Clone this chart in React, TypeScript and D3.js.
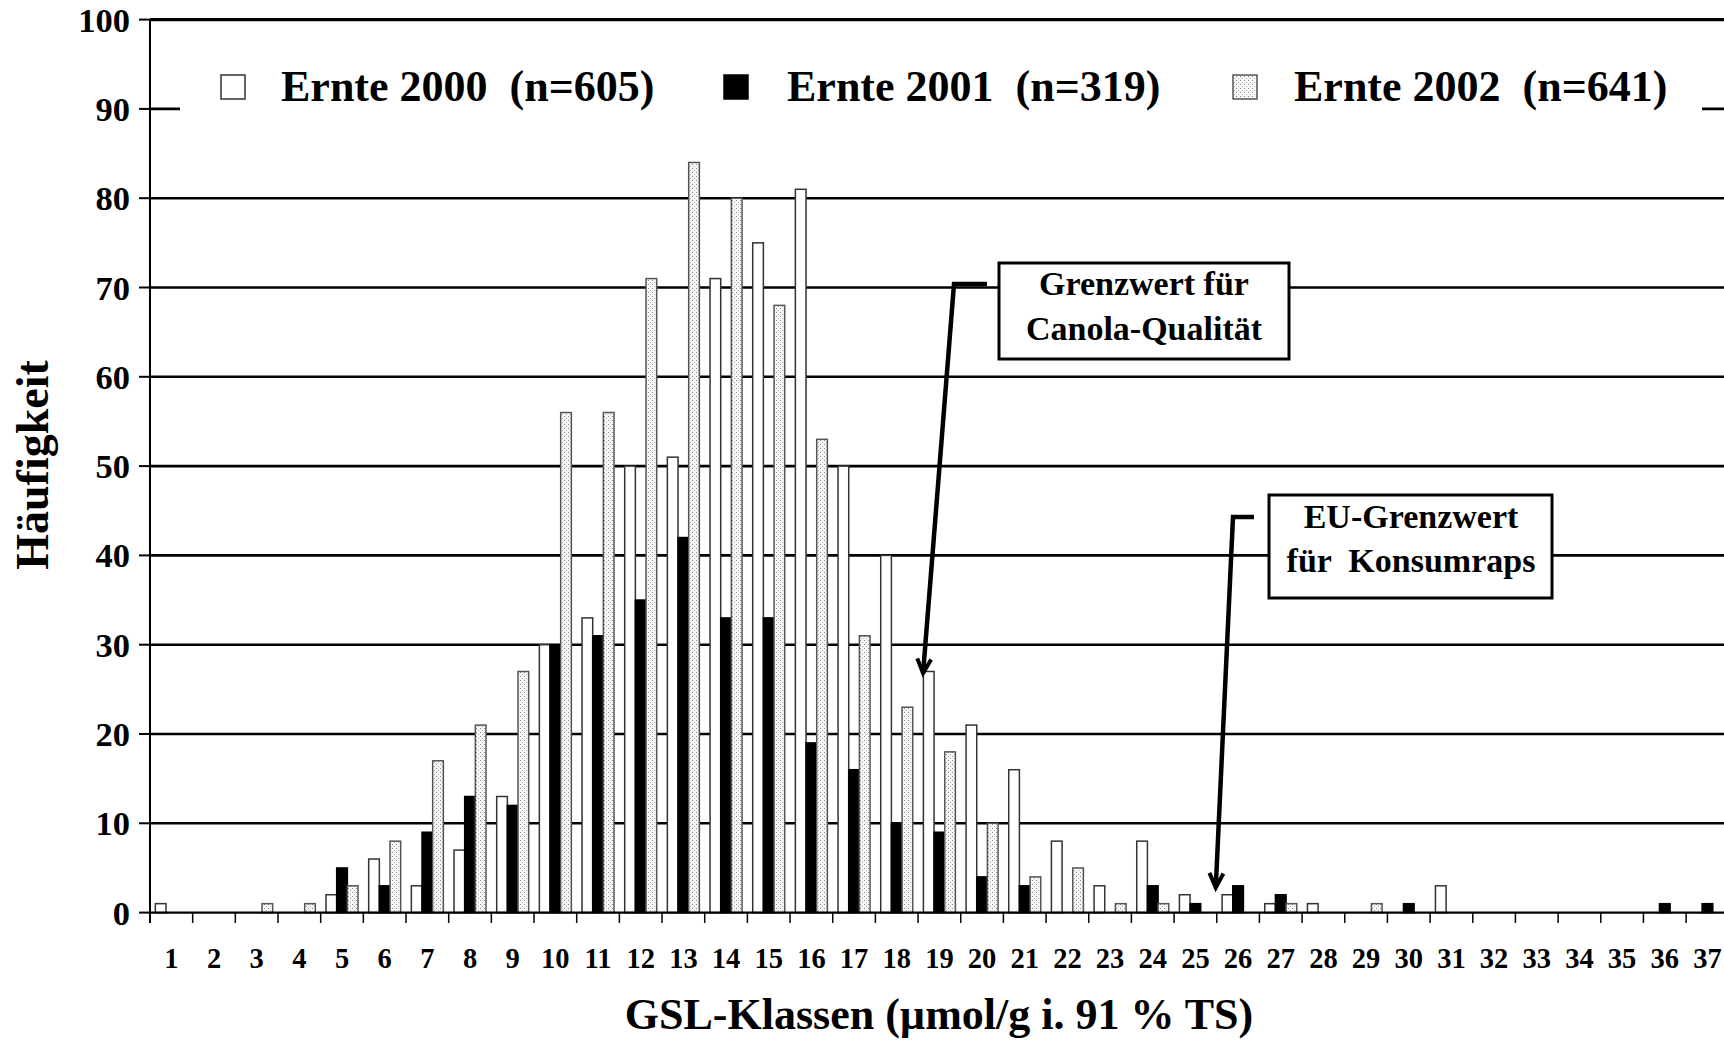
import React from "react";
import * as d3 from "d3";

const categories = ["1","2","3","4","5","6","7","8","9","10","11","12","13","14","15","16","17","18","19","20","21","22","23","24","25","26","27","28","29","30","31","32","33","34","35","36","37"];
const ernte2000 = [1,0,0,0,2,6,3,7,13,30,33,50,51,71,75,81,50,40,27,21,16,8,3,8,2,2,1,1,0,0,3,0,0,0,0,0,0];
const ernte2001 = [0,0,0,0,5,3,9,13,12,30,31,35,42,33,33,19,16,10,9,4,3,0,0,3,1,3,2,0,0,1,0,0,0,0,0,1,1];
const ernte2002 = [0,0,1,1,3,8,17,21,27,56,56,71,84,80,68,53,31,23,18,10,4,5,1,1,0,0,1,0,1,0,0,0,0,0,0,0,0];
const seriesNames = ["Ernte 2000  (n=605)", "Ernte 2001  (n=319)", "Ernte 2002  (n=641)"];
const yTicks = [0,10,20,30,40,50,60,70,80,90,100];

const W = 1724, H = 1043;
const FONT = "'Liberation Serif', 'Times New Roman', serif";

export default function App() {
  const x = d3.scaleBand<string>().domain(categories).range([150, 150 + 37 * 42.67]).padding(0);
  const xi = d3.scaleBand<number>().domain([0, 1, 2]).range([0, x.bandwidth()]).paddingInner(0).paddingOuter(0.5);
  const y = d3.scaleLinear().domain([0, 100]).range([912.6, 19.6]);
  const series = [ernte2000, ernte2001, ernte2002];
  const fills = ["#ffffff", "#000000", "url(#dots)"];
  const strokes = ["#333", "#000", "#555"];

  const legendItems = [
    { mx: 221, tx: 281 },
    { mx: 724, tx: 787 },
    { mx: 1233, tx: 1294 },
  ];

  const arrowHead = (x0: number, y0: number, x1: number, y1: number) => {
    const ang = Math.atan2(y1 - y0, x1 - x0);
    const L = 16, a = 0.45;
    const p1 = [x1 - L * Math.cos(ang - a), y1 - L * Math.sin(ang - a)];
    const p2 = [x1 - L * Math.cos(ang + a), y1 - L * Math.sin(ang + a)];
    return `M${p1[0]},${p1[1]} L${x1},${y1} L${p2[0]},${p2[1]}`;
  };

  const a1 = { hx: 987, hy: 284, kx: 954, ky: 284, tx: (x("19") as number) + 5, ty: y(26.8) };
  const a2 = { hx: 1254, hy: 517, kx: 1233, ky: 517, tx: (x("26") as number) - 1, ty: y(2.8) };

  return (
    <svg width={W} height={H} style={{ position: "absolute", left: 0, top: 0, background: "#fff" }} fontFamily={FONT}>
      <defs>
        <pattern id="dots" width="4" height="4" patternUnits="userSpaceOnUse">
          <rect width="4" height="4" fill="#f6f6f6" />
          <rect x="0" y="0" width="1" height="1" fill="#8a8a8a" />
          <rect x="2" y="2" width="1" height="1" fill="#b0b0b0" />
        </pattern>
      </defs>
      <rect width={W} height={H} fill="#fff" />
      {yTicks.filter(t => t > 0).map(t => (
        <line key={t} x1={150} x2={W} y1={y(t)} y2={y(t)} stroke="#000" strokeWidth={t === 100 ? 3.2 : 2.6} />
      ))}
      <rect x={180} y={45} width={1522} height={80} fill="#fff" />
      {legendItems.map((li, i) => (
        <g key={i}>
          <rect x={li.mx} y={75} width={24} height={24} fill={fills[i]} stroke={strokes[i]} strokeWidth={1.5} />
          <text x={li.tx} y={101} fontSize={44} fontWeight="bold" style={{ whiteSpace: "pre" }}>{seriesNames[i]}</text>
        </g>
      ))}
      <rect x={999} y={263} width={290} height={96} fill="#fff" stroke="#000" strokeWidth={3} />
      <text x={1144} y={295} fontSize={34} fontWeight="bold" textAnchor="middle">Grenzwert für</text>
      <text x={1144} y={340} fontSize={34} fontWeight="bold" textAnchor="middle">Canola-Qualität</text>
      <rect x={1269} y={495} width={283} height={103} fill="#fff" stroke="#000" strokeWidth={3} />
      <text x={1411} y={528} fontSize={34} fontWeight="bold" textAnchor="middle">EU-Grenzwert</text>
      <text x={1411} y={572} fontSize={34} fontWeight="bold" textAnchor="middle" style={{ whiteSpace: "pre" }}>für  Konsumraps</text>
      {series.map((vals, si) => (
        <g key={si}>
          {categories.map((c, ci) => vals[ci] > 0 ? (
            <rect key={c}
              x={(x(c) as number) + (xi(si) as number)}
              y={y(vals[ci])}
              width={xi.bandwidth()}
              height={y(0) - y(vals[ci])}
              fill={fills[si]}
              stroke={strokes[si]}
              strokeWidth={1.5} />
          ) : null)}
        </g>
      ))}
      {[a1, a2].map((a, i) => (
        <g key={i} fill="none" stroke="#000" strokeWidth={4.5}>
          <path d={`M${a.hx},${a.hy} L${a.kx},${a.ky} L${a.tx},${a.ty}`} strokeLinejoin="miter" />
          <path d={arrowHead(a.kx, a.ky, a.tx, a.ty)} strokeWidth={4} />
        </g>
      ))}
      <line x1={150} x2={150} y1={y(100)} y2={923} stroke="#000" strokeWidth={2} />
      <line x1={150} x2={W} y1={y(0)} y2={y(0)} stroke="#000" strokeWidth={2.2} />
      {yTicks.map(t => (
        <g key={t}>
          <line x1={139} x2={150} y1={y(t)} y2={y(t)} stroke="#000" strokeWidth={2} />
          <text x={130} y={y(t) + 12} fontSize={34.5} fontWeight="bold" textAnchor="end">{t}</text>
        </g>
      ))}
      {categories.map(c => (
        <line key={c} x1={(x(c) as number) + x.bandwidth()} x2={(x(c) as number) + x.bandwidth()} y1={y(0)} y2={923} stroke="#000" strokeWidth={1.5} />
      ))}
      {categories.map(c => (
        <text key={c} x={(x(c) as number) + x.bandwidth() / 2} y={968} fontSize={28.5} fontWeight="bold" textAnchor="middle">{c}</text>
      ))}
      <text x={939} y={1029} fontSize={44} fontWeight="bold" textAnchor="middle">GSL-Klassen (µmol/g i. 91 % TS)</text>
      <text transform="translate(48,465) rotate(-90)" fontSize={46} fontWeight="bold" textAnchor="middle">Häufigkeit</text>
    </svg>
  );
}
